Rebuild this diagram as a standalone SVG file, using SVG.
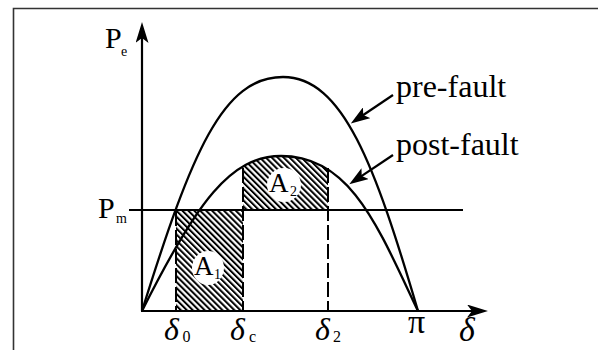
<svg xmlns="http://www.w3.org/2000/svg" width="598" height="350" viewBox="0 0 598 350">
<style>
.ln{fill:none;stroke:#000;stroke-width:2.3}
.ax{fill:none;stroke:#000;stroke-width:2.2}
.dash{fill:none;stroke:#000;stroke-width:2;stroke-dasharray:15 4}
.t{font-family:"Liberation Serif","Times New Roman",serif;fill:#000}
.it{font-family:"Liberation Serif","Times New Roman",serif;font-style:italic;fill:#000}
</style>
<defs>
<pattern id="hatch" patternUnits="userSpaceOnUse" width="4.2" height="10" patternTransform="rotate(-45)">
<rect x="0" y="0" width="2" height="10" fill="#000"/>
</pattern>
<marker id="axarr" markerUnits="userSpaceOnUse" viewBox="0 0 21 13" markerWidth="21" markerHeight="13" refX="13" refY="6.5" orient="auto">
<path d="M0,0 L21,6.5 L0,13 L5,6.5 Z" fill="#000"/>
</marker>
<marker id="arr" markerUnits="userSpaceOnUse" viewBox="0 0 19 13" markerWidth="19" markerHeight="13" refX="12" refY="6.5" orient="auto">
<path d="M0,0 L19,6.5 L0,13 L4,6.5 Z" fill="#000"/>
</marker>
<clipPath id="postArea">
<path d="M142,311 C197,201 231,156 281,156 C351,156 378,227 418,311 Z"/>
</clipPath>
</defs>
<rect x="0" y="0" width="598" height="350" fill="#fff"/>
<path d="M13.5,350 L13.5,8.5 L598,8.5" fill="none" stroke="#333" stroke-width="1.6"/>

<g id="area-A1">
<rect x="176" y="210" width="67" height="101" fill="url(#hatch)"/>
<ellipse cx="208" cy="268" rx="16" ry="17" fill="#fff"/>
<text class="t" x="194" y="275" font-size="27">A</text>
<text class="t" x="214" y="279" font-size="14">1</text>
</g>
<g id="area-A2">
<rect x="243" y="145" width="85" height="65" fill="url(#hatch)" clip-path="url(#postArea)"/>
<ellipse cx="284" cy="185" rx="17" ry="17" fill="#fff"/>
<text class="t" x="269" y="192" font-size="27">A</text>
<text class="t" x="290" y="195.5" font-size="14">2</text>
</g>

<g id="axes">
<line class="ax" x1="142" y1="311" x2="142" y2="30" marker-end="url(#axarr)"/>
<line class="ax" x1="141" y1="311" x2="480" y2="311" marker-end="url(#axarr)"/>
<line class="ax" x1="129" y1="210" x2="463" y2="210"/>
</g>

<g id="curve-pre">
<path class="ln" d="M142,311 C192,151 223,77 283,77 C343,77 375,165 418,311"/>
</g>
<g id="curve-post">
<path class="ln" d="M142,311 C197,201 231,156 281,156 C351,156 378,227 418,311"/>
</g>

<g id="markers">
<line class="dash" x1="176" y1="211" x2="176" y2="311"/>
<line class="dash" x1="243" y1="168" x2="243" y2="311"/>
<line class="dash" x1="328" y1="168" x2="328" y2="311"/>
</g>

<g id="labels">
<text class="t" x="105" y="48" font-size="30">P</text>
<text class="t" x="121" y="56" font-size="14">e</text>
<text class="t" x="98" y="218" font-size="30">P</text>
<text class="t" x="116" y="223" font-size="14">m</text>
<text class="it" x="164" y="340" font-size="32">δ</text>
<text class="t" x="182.5" y="342" font-size="16">0</text>
<text class="it" x="230" y="340" font-size="32">δ</text>
<text class="t" x="249" y="342" font-size="16">c</text>
<text class="it" x="315" y="340" font-size="32">δ</text>
<text class="t" x="333" y="342" font-size="16">2</text>
<text class="t" x="408" y="333" font-size="34">π</text>
<text class="it" x="459" y="341" font-size="34">δ</text>
<text class="t" x="396" y="97" font-size="32">pre-fault</text>
<text class="t" x="396" y="155" font-size="32">post-fault</text>
</g>

<g id="connectors">
<line class="ax" x1="393" y1="95" x2="356.6" y2="119.5" marker-end="url(#arr)"/>
<line class="ax" x1="393" y1="155" x2="355.1" y2="180.4" marker-end="url(#arr)"/>
</g>
</svg>
